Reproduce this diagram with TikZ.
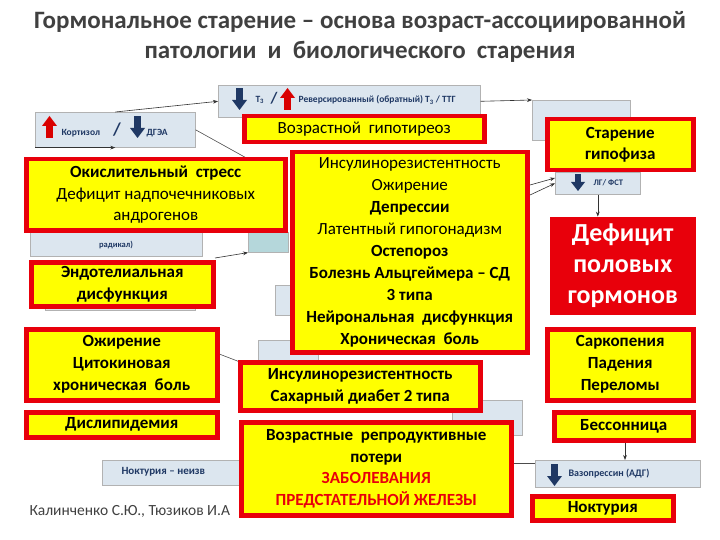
\documentclass[tikz,border=0pt]{standalone}
\usepackage{fontspec}
\setmainfont{Carlito}
\usetikzlibrary{arrows.meta}
\definecolor{ybg}{HTML}{FFFF00}
\definecolor{rbd}{HTML}{E8000B}
\definecolor{bgb}{HTML}{DCE6EF}
\definecolor{ttl}{HTML}{404040}
\definecolor{dblue}{HTML}{1F3864}
\tikzset{
 ybox/.style={draw=rbd,line width=4.5pt,fill=ybg,align=center,inner sep=0pt,anchor=north west,text=black},
 gbox/.style={draw=gray!60,line width=0.6pt,fill=bgb,anchor=north west,inner sep=0pt,align=center},
 conn/.style={-{Stealth[length=5pt]},line width=0.6pt,black!80},
 ln/.style={line width=0.6pt,black!70}
}
\begin{document}
\begin{tikzpicture}[x=1pt,y=-1pt]
\useasboundingbox (0,0) rectangle (720,540);
\fill[white] (0,0) rectangle (720,540);
\node[font=\bfseries\fontsize{25}{30}\selectfont,text=ttl,align=center] (title) at (360,37) {Гормональное старение – основа возраст-ассоциированной\\патологии\ \ и\ \ биологического\ \ старения};
% background boxes
\node[gbox,minimum width=262pt,minimum height=32pt] (t3) at (218,85) {};
\node[font=\bfseries\fontsize{9.5}{11}\selectfont,text=dblue,anchor=west] (t3a) at (252,100) {T\textsubscript{3}};
\node[font=\bfseries\fontsize{16}{18}\selectfont,text=dblue] (t3s) at (274,98) {/};
\node[font=\bfseries\fontsize{9.5}{11}\selectfont,text=dblue,anchor=west] (t3t) at (295,100) {Реверсированный (обратный) T\textsubscript{3} / ТТГ};
\fill[dblue] (236,88) rectangle (243,102); \fill[dblue] (232,100)--(247,100)--(239.5,110)--cycle;
\fill[red!85!black] (284,96) rectangle (291,110); \fill[red!85!black] (280,98)--(295,98)--(287.5,88)--cycle;
\node[gbox,minimum width=160pt,minimum height=35pt] (cort) at (35,112) {};
\node[font=\bfseries\fontsize{9.5}{11}\selectfont,text=dblue,anchor=west] (cortt) at (58,133) {Кортизол};
\node[font=\bfseries\fontsize{18}{20}\selectfont,text=dblue] (corts) at (117,130) {/};
\node[font=\bfseries\fontsize{9.5}{11}\selectfont,text=dblue,anchor=west] (cortd) at (143,133) {ДГЭА};
\fill[red!85!black] (46,124) rectangle (53,138); \fill[red!85!black] (42,126)--(57,126)--(49.5,116)--cycle;
\fill[dblue] (134,116) rectangle (141,130); \fill[dblue] (130,128)--(145,128)--(137.5,138)--cycle;
\node[gbox,minimum width=172pt,minimum height=28pt] (rad) at (30,228) {};
\node[font=\bfseries\fontsize{8.5}{10}\selectfont,text=dblue] (radt) at (116,245) {радикал)};
\node[gbox,fill=bgb!60!teal!60,minimum width=40pt,minimum height=20pt] (teal) at (248,232) {};
\node[gbox,minimum width=98pt,minimum height=40pt] (pit) at (532,100) {};
\node[gbox,minimum width=85pt,minimum height=22pt] (lh) at (555,172) {};
\node[font=\bfseries\fontsize{8.5}{10}\selectfont,text=dblue,anchor=west] (lht) at (590,183) {ЛГ/ ФСТ};
\fill[dblue] (575,174) rectangle (581,184); \fill[dblue] (571,182)--(585,182)--(578,191)--cycle;
\node[gbox,minimum width=150pt,minimum height=20pt] (bg2) at (45,290) {};
\node[gbox,minimum width=100pt,minimum height=30pt] (bg3) at (275,285) {};
\node[gbox,minimum width=60pt,minimum height=35pt] (bg4) at (258,340) {};
\node[gbox,minimum width=70pt,minimum height=35pt] (bg5) at (452,400) {};
\node[gbox,minimum width=140pt,minimum height=25pt] (nokt) at (102,460) {};
\node[font=\bfseries\fontsize{11}{12}\selectfont,text=dblue,anchor=west] (noktt) at (118,472) {Ноктурия – неизв};
\node[gbox,minimum width=165pt,minimum height=27pt] (vaso) at (535,460) {};
\node[font=\bfseries\fontsize{10}{11}\selectfont,text=dblue,anchor=west] (vasot) at (565,474) {Вазопрессин (АДГ)};
\fill[dblue] (551,464) rectangle (558,478); \fill[dblue] (547,476)--(562,476)--(554.5,486)--cycle;
% connectors
\draw[conn] (cort.north) -- (t3.west);
\draw[conn] (t3.east) -- (pit.north west);
\draw[ln] (cort.east) -- (250,160);
\draw[conn] (cort.south) ++(-80,0) -- (cort.south);
\draw[conn] (pit.south) ++(-20,0) -- (lh.north);
\draw[conn] (lh.south) -- ++(0,22);
\draw[conn] (530,195) -- (lh.west);
\draw[conn] (530,185) -- (555,178);
\draw[conn] (215,258) -- (teal.south west);
\draw[conn] (625,440) -- (625,460);
\draw[ln] (160,330) -- (175,337) -- (240,362);
\draw[ln] (512,463) -- (535,463);
% yellow boxes
\node[ybox,minimum width=240pt,minimum height=26pt,font=\fontsize{17}{20}\selectfont] (hypo) at (242,114) {Возрастной\ \ гипотиреоз};
\node[ybox,minimum width=259pt,minimum height=71pt,font=\fontsize{17}{21.5}\selectfont] (oxi) at (24,157) {\textbf{Окислительный\ \ стресс}\\Дефицит надпочечниковых\\андрогенов};
\node[ybox,minimum width=235pt,minimum height=200pt,font=\fontsize{17}{22}\selectfont] (ins) at (290,150) {Инсулинорезистентность\\Ожирение\\\textbf{Депрессии}\\Латентный гипогонадизм\\\textbf{Остепороз}\\\textbf{Болезнь Альцгеймера – СД}\\\textbf{3 типа}\\\textbf{Нейрональная\ \ дисфункция}\\\textbf{Хроническая\ \ боль}};
\node[ybox,minimum width=146pt,minimum height=51pt,font=\bfseries\fontsize{17}{21}\selectfont] (pitb) at (545,117) {Старение\\гипофиза};
\node[ybox,fill=rbd,text=white,minimum width=141pt,minimum height=93pt,font=\bfseries\fontsize{26}{31}\selectfont] (def) at (550,217) {Дефицит\\половых\\гормонов};
\node[ybox,minimum width=182pt,minimum height=44pt,font=\bfseries\fontsize{17}{22}\selectfont] (endo) at (29,260) {Эндотелиальная\\дисфункция};
\node[ybox,minimum width=191pt,minimum height=71pt,font=\bfseries\fontsize{17}{22}\selectfont] (obes) at (24,327) {Ожирение\\Цитокиновая\\хроническая\ \ боль};
\node[ybox,minimum width=240pt,minimum height=48pt,font=\bfseries\fontsize{17}{22}\selectfont] (sd2) at (238,360) {Инсулинорезистентность\\Сахарный диабет 2 типа};
\node[ybox,minimum width=146pt,minimum height=71pt,font=\bfseries\fontsize{17}{22}\selectfont] (sarc) at (545,327) {Саркопения\\Падения\\Переломы};
\node[ybox,minimum width=191pt,minimum height=25pt,font=\bfseries\fontsize{17}{19}\selectfont] (disl) at (24,410) {Дислипидемия};
\node[ybox,minimum width=139pt,minimum height=28pt,font=\bfseries\fontsize{17}{19}\selectfont] (bess) at (552,410) {Бессонница};
\node[ybox,minimum width=270pt,minimum height=93pt,font=\bfseries\fontsize{17}{21.5}\selectfont] (repr) at (239,420) {Возрастные\ \ репродуктивные\\потери\\\textcolor{rbd}{ЗАБОЛЕВАНИЯ}\\\textcolor{rbd}{ПРЕДСТАТЕЛЬНОЙ ЖЕЛЕЗЫ}};
\node[ybox,minimum width=141pt,minimum height=24pt,font=\bfseries\fontsize{17}{19}\selectfont] (noct) at (530,494) {Ноктурия};
\node[anchor=west,font=\fontsize{15.5}{18}\selectfont,text=black!75] (auth) at (26,511) {Калинченко С.Ю., Тюзиков И.А};
\end{tikzpicture}
\end{document}
